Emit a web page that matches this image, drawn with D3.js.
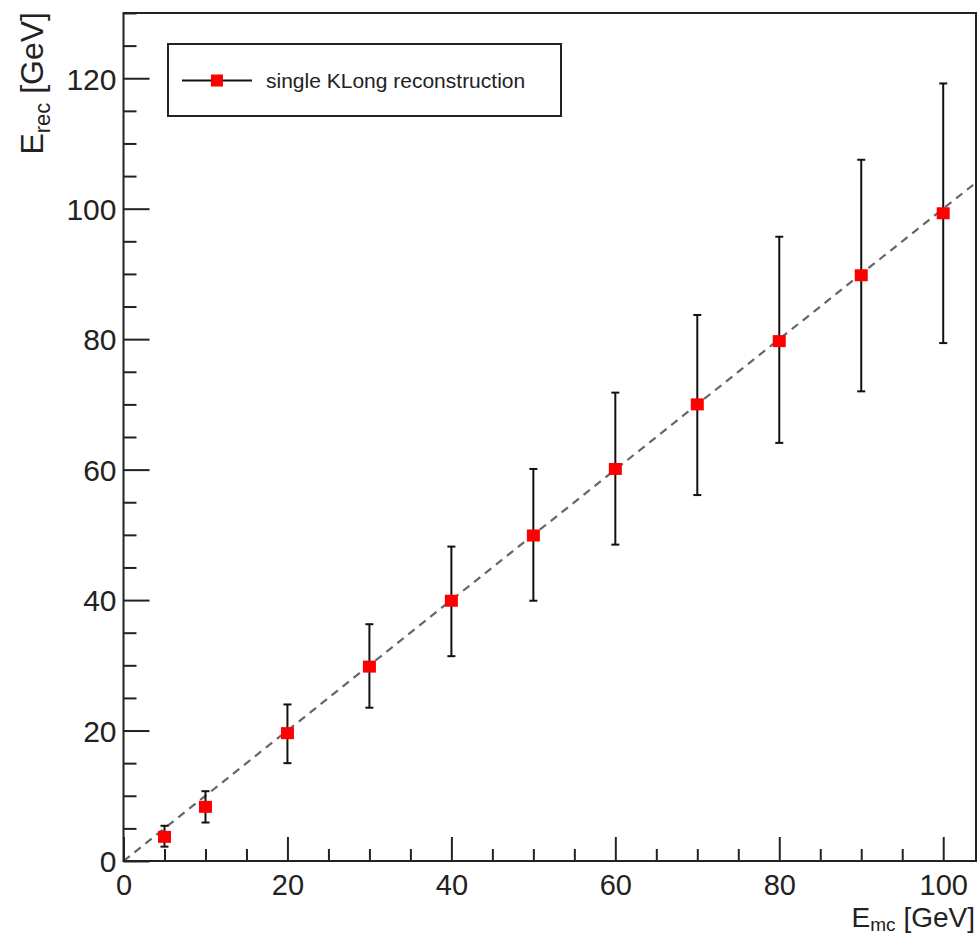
<!DOCTYPE html>
<html>
<head>
<meta charset="utf-8">
<script src="https://d3js.org/d3.v7.min.js"></script>
<style>
  body { margin: 0; background: #fff; }
  text { font-family: "Liberation Sans", Arial, sans-serif; fill: #222; }
</style>
</head>
<body>
<div id="chart"></div>
<script>
// data
var emc = [5, 10, 20, 30, 40, 50, 60, 70, 80, 90, 100];
var erec = [3.7, 8.3, 19.6, 29.8, 39.9, 49.9, 60.1, 70.0, 79.7, 89.8, 99.3];
var errHigh = [5.4, 10.7, 24.0, 36.3, 48.2, 60.1, 71.8, 83.7, 95.7, 107.5, 119.2];
var errLow = [2.2, 5.9, 15.0, 23.5, 31.4, 39.9, 48.5, 56.1, 64.1, 72.0, 79.4];
var xTicks = [0, 20, 40, 60, 80, 100];
var yTicks = [0, 20, 40, 60, 80, 100, 120];
var legendLabel = "single KLong reconstruction";

var width = 978, height = 935;
var frame = { left: 123.5, right: 976, top: 13, bottom: 861 };

var x = d3.scaleLinear().domain([0, 104]).range([frame.left, frame.right]);
var y = d3.scaleLinear().domain([0, 130]).range([frame.bottom, frame.top]);

var svg = d3.select("#chart").append("svg")
    .attr("width", width)
    .attr("height", height);

var data = emc.map(function (d, i) {
    return { x: d, y: erec[i], hi: errHigh[i], lo: errLow[i] };
});

svg.append("clipPath").attr("id", "clip")
    .append("rect")
    .attr("x", frame.left).attr("y", frame.top)
    .attr("width", frame.right - frame.left)
    .attr("height", frame.bottom - frame.top);

// y = x reference line
svg.append("line")
    .attr("clip-path", "url(#clip)")
    .attr("x1", x(0)).attr("y1", y(0))
    .attr("x2", x(104)).attr("y2", y(104))
    .attr("stroke", "#666")
    .attr("stroke-width", 2.2)
    .attr("stroke-dasharray", "8,6");

// minor ticks (every 5)
var xMinor = d3.range(0, 105, 5).filter(function (d) { return d % 20 !== 0; });
var yMinor = d3.range(0, 131, 5).filter(function (d) { return d % 20 !== 0; });

svg.append("g")
    .attr("transform", "translate(0," + frame.bottom + ")")
    .call(d3.axisBottom(x).tickValues(xMinor).tickSize(-12).tickFormat(""))
    .call(function (g) { g.select(".domain").remove(); });

svg.append("g")
    .attr("transform", "translate(" + frame.left + ",0)")
    .call(d3.axisLeft(y).tickValues(yMinor).tickSize(-13).tickFormat(""))
    .call(function (g) { g.select(".domain").remove(); });

// major ticks with labels
var xAxis = svg.append("g")
    .attr("transform", "translate(0," + frame.bottom + ")")
    .call(d3.axisBottom(x).tickValues(xTicks).tickSize(-24).tickPadding(0).tickFormat(d3.format("d")));
xAxis.select(".domain").remove();
xAxis.selectAll("text")
    .attr("y", 34)
    .attr("dy", 0)
    .style("font-size", "29px")
    .style("font-family", "Liberation Sans, Arial, sans-serif")
    .attr("fill", "#222");

var yAxis = svg.append("g")
    .attr("transform", "translate(" + frame.left + ",0)")
    .call(d3.axisLeft(y).tickValues(yTicks).tickSize(-26).tickPadding(0).tickFormat(d3.format("d")));
yAxis.select(".domain").remove();
yAxis.selectAll("text")
    .attr("x", -7)
    .attr("dy", "0.36em")
    .style("font-size", "30px")
    .style("font-family", "Liberation Sans, Arial, sans-serif")
    .attr("fill", "#222");

svg.selectAll(".tick line").attr("stroke", "#222").attr("stroke-width", 2);

// frame
svg.append("rect")
    .attr("x", frame.left).attr("y", frame.top)
    .attr("width", frame.right - frame.left)
    .attr("height", frame.bottom - frame.top)
    .attr("fill", "none")
    .attr("stroke", "#222")
    .attr("stroke-width", 2);

// error bars
var bars = svg.append("g").selectAll("g.err")
    .data(data)
    .enter().append("g").attr("class", "err")
    .attr("stroke", "#111")
    .attr("stroke-width", 2);

bars.append("line")
    .attr("x1", function (d) { return x(d.x); })
    .attr("x2", function (d) { return x(d.x); })
    .attr("y1", function (d) { return y(d.hi); })
    .attr("y2", function (d) { return y(d.lo); });
bars.append("line")
    .attr("x1", function (d) { return x(d.x) - 4; })
    .attr("x2", function (d) { return x(d.x) + 4; })
    .attr("y1", function (d) { return y(d.hi); })
    .attr("y2", function (d) { return y(d.hi); });
bars.append("line")
    .attr("x1", function (d) { return x(d.x) - 4; })
    .attr("x2", function (d) { return x(d.x) + 4; })
    .attr("y1", function (d) { return y(d.lo); })
    .attr("y2", function (d) { return y(d.lo); });

// markers
svg.append("g").selectAll("rect")
    .data(data)
    .enter().append("rect")
    .attr("x", function (d) { return x(d.x) - 6.5; })
    .attr("y", function (d) { return y(d.y) - 6; })
    .attr("width", 13)
    .attr("height", 12)
    .attr("fill", "#ff0000");

// legend
var legend = svg.append("g");
legend.append("rect")
    .attr("x", 168).attr("y", 44)
    .attr("width", 393).attr("height", 72)
    .attr("fill", "#fff")
    .attr("stroke", "#222")
    .attr("stroke-width", 2);
legend.append("line")
    .attr("x1", 182).attr("x2", 252)
    .attr("y1", 80.5).attr("y2", 80.5)
    .attr("stroke", "#111").attr("stroke-width", 2);
legend.append("rect")
    .attr("x", 211).attr("y", 74.5)
    .attr("width", 12).attr("height", 12)
    .attr("fill", "#ff0000");
legend.append("text")
    .attr("x", 266).attr("y", 88)
    .style("font-size", "21px")
    .text(legendLabel);

// axis titles
var xt = svg.append("text")
    .attr("x", 975).attr("y", 927)
    .attr("text-anchor", "end")
    .style("font-size", "28px");
xt.append("tspan").text("E");
xt.append("tspan").attr("dy", 4).style("font-size", "19px").text("mc");
xt.append("tspan").attr("dy", -4).text(" [GeV]");

var yt = svg.append("text")
    .attr("transform", "translate(43,12) rotate(-90)")
    .attr("text-anchor", "end")
    .style("font-size", "32px");
yt.append("tspan").text("E");
yt.append("tspan").attr("dy", 7).style("font-size", "22px").text("rec");
yt.append("tspan").attr("dy", -7).text(" [GeV]");
</script>
</body>
</html>
